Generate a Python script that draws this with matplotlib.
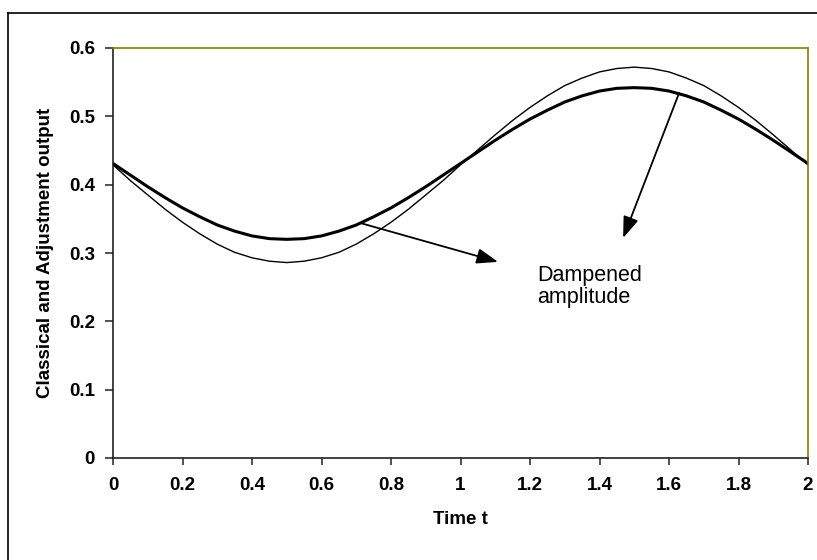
import matplotlib
matplotlib.use("Agg")
import matplotlib.pyplot as plt
from matplotlib.lines import Line2D

plt.rcParams['font.family'] = ['Liberation Sans', 'DejaVu Sans']

# ---- data ----
time_t = [0.00, 0.05, 0.10, 0.15, 0.20, 0.25, 0.30, 0.35, 0.40, 0.45,
          0.50, 0.55, 0.60, 0.65, 0.70, 0.75, 0.80, 0.85, 0.90, 0.95,
          1.00, 1.05, 1.10, 1.15, 1.20, 1.25, 1.30, 1.35, 1.40, 1.45,
          1.50, 1.55, 1.60, 1.65, 1.70, 1.75, 1.80, 1.85, 1.90, 1.95, 2.00]
classical = [0.429, 0.406, 0.385, 0.364, 0.345, 0.328, 0.313, 0.301, 0.293, 0.288,
             0.286, 0.288, 0.293, 0.301, 0.313, 0.328, 0.345, 0.364, 0.385, 0.406,
             0.429, 0.451, 0.473, 0.494, 0.513, 0.530, 0.545, 0.556, 0.565, 0.570,
             0.572, 0.570, 0.565, 0.556, 0.545, 0.530, 0.513, 0.494, 0.473, 0.451, 0.429]
adjusted = [0.431, 0.414, 0.397, 0.381, 0.366, 0.353, 0.341, 0.332, 0.325, 0.321,
            0.320, 0.321, 0.325, 0.332, 0.341, 0.353, 0.366, 0.381, 0.397, 0.414,
            0.431, 0.448, 0.465, 0.481, 0.496, 0.509, 0.521, 0.530, 0.537, 0.541,
            0.542, 0.541, 0.537, 0.530, 0.521, 0.509, 0.496, 0.481, 0.465, 0.448, 0.431]

x_ticks = [0, 0.2, 0.4, 0.6, 0.8, 1.0, 1.2, 1.4, 1.6, 1.8, 2.0]
x_tick_labels = ["0", "0.2", "0.4", "0.6", "0.8", "1", "1.2", "1.4", "1.6", "1.8", "2"]
y_ticks = [0, 0.1, 0.2, 0.3, 0.4, 0.5, 0.6]
y_tick_labels = ["0", "0.1", "0.2", "0.3", "0.4", "0.5", "0.6"]

annotation_text = "Dampened\namplitude"
arrow1_from, arrow1_to = (0.711, 0.344), (1.108, 0.287)
arrow2_from, arrow2_to = (1.629, 0.534), (1.468, 0.322)
text_pos = (1.22, 0.283)

# ---- figure ----
W, H = 817, 560
fig = plt.figure(figsize=(W / 100, H / 100), dpi=100)
ax = fig.add_axes([113 / W, 1 - 458 / H, (808 - 113) / W, (458 - 48) / H])

# outer border (left and top visible)
fig.add_artist(Line2D([7.5 / W, 7.5 / W], [0, 1 - 12.5 / H], transform=fig.transFigure,
                      color='black', lw=1.2))
fig.add_artist(Line2D([7.5 / W, 1], [1 - 12.5 / H, 1 - 12.5 / H], transform=fig.transFigure,
                      color='black', lw=1.2))

ax.plot(time_t, classical, color='black', lw=1.0)
ax.plot(time_t, adjusted, color='black', lw=2.2)

ax.set_xlim(0, 2)
ax.set_ylim(0, 0.6)
ax.set_xticks(x_ticks)
ax.set_xticklabels(x_tick_labels)
ax.set_yticks(y_ticks)
ax.set_yticklabels(y_tick_labels)

for lab in ax.get_xticklabels() + ax.get_yticklabels():
    lab.set_fontweight('bold')
    lab.set_fontsize(13.5)

ax.tick_params(axis='x', direction='out', length=5, width=1.1, pad=9, color='#222222')
ax.tick_params(axis='y', direction='out', length=6, width=1.1, pad=7, color='#222222')

for side in ['left', 'bottom']:
    ax.spines[side].set_color('#222222')
    ax.spines[side].set_linewidth(1.2)
for side in ['top', 'right']:
    ax.spines[side].set_color('#808000')
    ax.spines[side].set_linewidth(1.2)

ax.set_xlabel("Time t", fontsize=13.5, fontweight='bold', labelpad=12)
ax.set_ylabel("Classical and Adjustment output", fontsize=13.5, fontweight='bold', labelpad=11)

arrowprops = dict(arrowstyle='-|>,head_length=13,head_width=4.7', mutation_scale=1,
                  color='black', lw=1.3, shrinkA=0, shrinkB=0)
ax.annotate('', xy=arrow1_to, xytext=arrow1_from, arrowprops=arrowprops)
ax.annotate('', xy=arrow2_to, xytext=arrow2_from, arrowprops=arrowprops)
ax.text(text_pos[0], text_pos[1], annotation_text, fontsize=15.5, va='top', ha='left',
        linespacing=1.1)

fig.savefig("out.png", dpi=100)
